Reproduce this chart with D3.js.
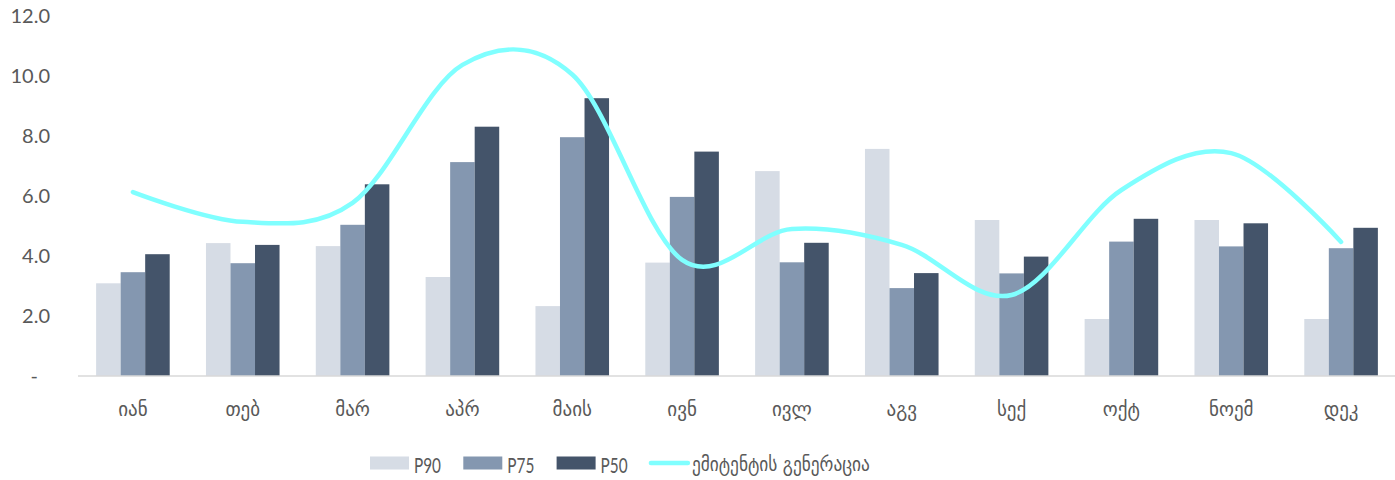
<!DOCTYPE html>
<html>
<head>
<meta charset="utf-8">
<script src="https://cdn.jsdelivr.net/npm/d3@7"></script>
<style>
  html, body { margin: 0; padding: 0; background: #ffffff; }
  svg { display: block; }
  .tick-y { font-family: Lato, "Open Sans", sans-serif; font-size: 20px; fill: #595959; }
  .tick-x { font-family: "DejaVu Sans", sans-serif; font-size: 19px; fill: #595959; }
  .legend text { fill: #595959; }
</style>
</head>
<body>
<svg id="chart" width="1395" height="480"></svg>
<script>
// Months (Georgian abbreviations)
const months = ["იან", "თებ", "მარ", "აპრ", "მაის", "ივნ", "ივლ", "აგვ", "სექ", "ოქტ", "ნოემ", "დეკ"];

// Bar series
const p90 = [3.09, 4.43, 4.33, 3.30, 2.33, 3.78, 6.83, 7.57, 5.20, 1.90, 5.20, 1.90];
const p75 = [3.46, 3.76, 5.04, 7.13, 7.96, 5.97, 3.79, 2.93, 3.42, 4.48, 4.32, 4.26];
const p50 = [4.06, 4.37, 6.39, 8.31, 9.26, 7.48, 4.44, 3.43, 3.98, 5.24, 5.09, 4.94];

// Line series
const generation = [6.13, 5.14, 5.77, 10.37, 10.05, 3.87, 4.90, 4.37, 2.70, 6.20, 7.43, 4.47];

const seriesNames = ["P90", "P75", "P50"];
const lineName = "ემიტენტის გენერაცია";
const yTicks = [0, 2, 4, 6, 8, 10, 12];

const barSeries = [
  { name: "P90", values: p90, color: "#d6dce5" },
  { name: "P75", values: p75, color: "#8497b0" },
  { name: "P50", values: p50, color: "#44546a" }
];
const lineColor = "#80ffff";

const svg = d3.select("#chart");

const x0 = d3.scaleBand()
  .domain(months)
  .range([78, 1396])
  .paddingInner(0.33)
  .paddingOuter(0.165);

const x1 = d3.scaleBand()
  .domain(seriesNames)
  .range([0, x0.bandwidth()]);

const y = d3.scaleLinear()
  .domain([0, 12])
  .range([376, 16]);

// Y axis labels (no line, no tick marks)
const yAxis = d3.axisLeft(y)
  .tickValues(yTicks)
  .tickSize(0)
  .tickPadding(0)
  .tickFormat(d => d === 0 ? "-" : d3.format(".1f")(d));

const gy = svg.append("g")
  .attr("transform", "translate(50,0)")
  .call(yAxis);
gy.select(".domain").remove();
gy.selectAll("text")
  .attr("class", "tick-y")
  .attr("font-size", null)
  .attr("font-family", null)
  .attr("fill", null)
  .attr("dx", d => d === 0 ? -12 : 0);

// Bars
const groups = svg.append("g")
  .selectAll("g")
  .data(months)
  .join("g")
  .attr("transform", d => `translate(${x0(d)},0)`);

groups.selectAll("rect")
  .data((m, i) => barSeries.map(s => ({ name: s.name, value: s.values[i], color: s.color })))
  .join("rect")
  .attr("x", d => x1(d.name))
  .attr("width", x1.bandwidth())
  .attr("y", d => y(d.value))
  .attr("height", d => y(0) - y(d.value))
  .attr("fill", d => d.color);

// X axis baseline and labels
const xAxis = d3.axisBottom(x0).tickSize(0).tickPadding(0);
const gx = svg.append("g")
  .attr("transform", `translate(0,${y(0)})`)
  .call(xAxis);
gx.select(".domain")
  .attr("stroke", "#d9d9d9")
  .attr("stroke-width", 1.5)
  .attr("d", "M78,0H1395");
gx.selectAll("text")
  .attr("class", "tick-x")
  .attr("font-size", null)
  .attr("font-family", null)
  .attr("fill", null)
  .attr("dy", 0)
  .attr("y", 40);

// Smoothed line
const lineGen = d3.line()
  .x((d, i) => x0(months[i]) + x0.bandwidth() / 2)
  .y(d => y(d))
  .curve(d3.curveCatmullRom.alpha(0));

svg.append("path")
  .datum(generation)
  .attr("fill", "none")
  .attr("stroke", lineColor)
  .attr("stroke-width", 4.5)
  .attr("stroke-linecap", "round")
  .attr("stroke-linejoin", "round")
  .attr("d", lineGen);

// Legend: three bar swatches followed by the line swatch, evenly stepped
const legend = svg.append("g").attr("class", "legend");
const ly = 463;
const legendX = d3.scaleLinear().domain([0, 1]).range([370, 463.3]);
barSeries.forEach((s, i) => {
  const lx = legendX(i);
  legend.append("rect")
    .attr("x", lx).attr("y", ly - 6.5)
    .attr("width", 39).attr("height", 13)
    .attr("fill", s.color);
  legend.append("text")
    .attr("x", lx + 44).attr("y", ly + 1)
    .attr("dominant-baseline", "central")
    .style("font-family", "Lato, sans-serif")
    .style("font-size", "21px")
    .attr("textLength", 27)
    .attr("lengthAdjust", "spacingAndGlyphs")
    .text(s.name);
});
const llx = legendX(3) - 1;
legend.append("line")
  .attr("x1", llx + 2).attr("x2", llx + 39)
  .attr("y1", ly).attr("y2", ly)
  .attr("stroke", lineColor)
  .attr("stroke-width", 4.5)
  .attr("stroke-linecap", "round");
legend.append("text")
  .attr("x", llx + 43).attr("y", ly + 1)
  .attr("dominant-baseline", "central")
  .style("font-family", "'DejaVu Sans', sans-serif")
  .style("font-size", "20px")
  .attr("textLength", 178)
  .attr("lengthAdjust", "spacingAndGlyphs")
  .text(lineName);
</script>
</body>
</html>
